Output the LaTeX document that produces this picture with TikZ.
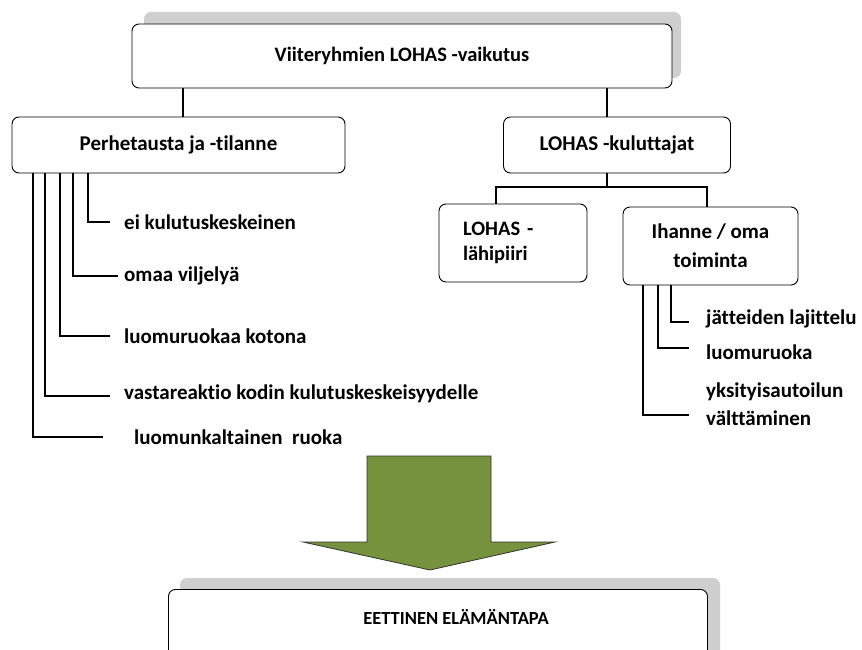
\documentclass[tikz,border=0pt]{standalone}
\usepackage{fontspec}
\setmainfont{Carlito}[Ligatures={NoCommon}]
\definecolor{arrowgreen}{RGB}{118,146,60}
\begin{document}
\begin{tikzpicture}[x=1pt,y=-1pt,
  every node/.style={font=\bfseries\fontsize{21}{25}\selectfont},
  rbox/.style={draw=black,line width=0.9pt,rounded corners=7pt,fill=white},
  shad/.style={fill=gray!38,draw=none,rounded corners=7pt},
  conn/.style={line width=2pt,black},
  lbl/.style={anchor=west,inner sep=0pt}]
\useasboundingbox (0,0) rectangle (862,650);
% top box
\fill[shad] (144,12) rectangle (681,78);
\node[rbox,minimum width=540pt,minimum height=64pt,font=\bfseries\fontsize{20.5}{25}\selectfont] (top) at (402,56) {Viiteryhmien LOHAS -vaikutus};
% level 1
\node[rbox,minimum width=333pt,minimum height=56pt] (perhe) at (178.5,145) {Perhetausta ja -tilanne};
\node[rbox,minimum width=227pt,minimum height=56pt] (kul) at (617,145) {LOHAS -kuluttajat};
\draw[conn] (top.south -| 183,0) -- (perhe.north -| 183,0);
\draw[conn] (top.south -| 607,0) -- (kul.north -| 607,0);
% level 2
\node[rbox,minimum width=148pt,minimum height=78pt,align=left,text width=100pt,
  font=\bfseries\fontsize{20.5}{25}\selectfont] (lahi) at (513,243) {LOHAS -\\lähipiiri};
\node[rbox,minimum width=175pt,minimum height=78pt,align=center,
  font=\bfseries\fontsize{21}{29}\selectfont] (ihanne) at (710.5,246) {Ihanne / oma\\toiminta};
\coordinate (kb) at (607,187);
\draw[conn] (kul.south -| kb) -- (kb);
\draw[conn] (lahi.north -| 496,0) |- (kb) -| (ihanne.north -| 707,0);
% left list
\node[lbl] (l1) at (124,222) {ei kulutuskeskeinen};
\node[lbl] (l2) at (124,276) {omaa viljelyä};
\node[lbl] (l3) at (124,336) {luomuruokaa kotona};
\node[lbl] (l4) at (124,394) {vastareaktio kodin kulutuskeskeisyydelle};
\node[lbl] (l5) at (134,437) {luomunkaltainen\ \ ruoka};
\draw[conn] (perhe.south -| 88,0) |- ([xshift=-14pt]l1.west);
\draw[conn] (perhe.south -| 73,0) |- ([xshift=-6pt]l2.west);
\draw[conn] (perhe.south -| 60,0) |- ([xshift=-14pt]l3.west);
\draw[conn] (perhe.south -| 45,0) |- ([xshift=-14pt,yshift=-2pt]l4.west);
\draw[conn] (perhe.south -| 33,0) |- ([xshift=-31pt]l5.west);
% right list
\node[lbl] (r1) at (706,319) {jätteiden lajittelu};
\node[lbl] (r2) at (706,352) {luomuruoka};
\node[lbl,align=left,font=\bfseries\fontsize{21}{28}\selectfont] (r3) at (706,404) {yksityisautoilun\\välttäminen};
\draw[conn] (ihanne.south -| 671,0) |- ([xshift=-17pt,yshift=-3pt]r1.west);
\draw[conn] (ihanne.south -| 658,0) |- ([xshift=-17pt,yshift=4pt]r2.west);
\draw[conn] (ihanne.south -| 643,0) |- ([xshift=-17pt,yshift=-11pt]r3.west);
% arrow
\draw[fill=arrowgreen,line width=0.8pt,draw=black!80]
  (367,456) -- (491,456) -- (491,542) -- (555,542) -- (430,570) -- (303,542) -- (367,542) -- cycle;
% bottom box
\fill[shad] (180,578) rectangle (720,680);
\node[rbox,minimum width=539pt,minimum height=90pt,anchor=north west] (eet) at (168,589) {};
\node[font=\bfseries\fontsize{18.5}{22}\selectfont] at (456,617) (eett) {EETTINEN ELÄMÄNTAPA};
\end{tikzpicture}
\end{document}
